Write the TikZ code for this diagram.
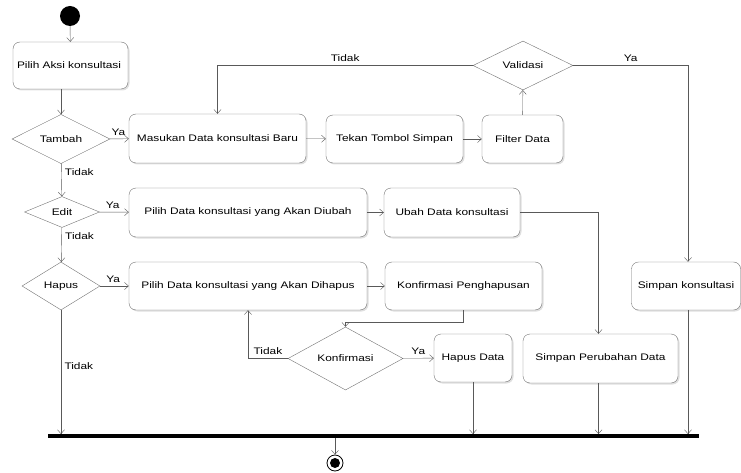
\documentclass[tikz,border=0pt]{standalone}
\usepackage{fontspec}
\setmainfont{Liberation Sans}[FakeStretch=1.25]
\usetikzlibrary{shapes.geometric,arrows.meta,shadows}
\begin{document}
\begin{tikzpicture}[x=1pt,y=-1pt,font=\fontsize{9.5}{11}\selectfont,
  >={Straight Barb[length=4pt,width=7pt]},
  line/.style={draw=black!65,->},
  act/.style={draw=black!55,rounded corners=7pt,fill=white,inner sep=2pt,
    drop shadow={opacity=.25,shadow xshift=1.5pt,shadow yshift=-1.5pt}},
  cond/.style={diamond,draw=black!55,fill=white,inner sep=0pt}]
\useasboundingbox (0,0) rectangle (741,473);
% start, aksi, keputusan
\node[circle,fill=black,minimum size=20,inner sep=0] (start) at (70,16) {};
\node[act,inner sep=4pt,minimum width=115,minimum height=47,text width=107,align=left] (aksi) at (70.5,65.5) {Pilih Aksi konsultasi};
\node[cond,minimum width=98,minimum height=48] (tambah) at (61,139) {Tambah};
\node[cond,minimum width=75,minimum height=31] (edit) at (62,212) {Edit};
\node[cond,minimum width=78,minimum height=48] (hapus) at (61,286) {Hapus};
% baris tambah
\node[act,minimum width=177,minimum height=49] (masukan) at (217.5,138.5) {Masukan Data konsultasi Baru};
\node[act,minimum width=137,minimum height=48] (tekan) at (394.5,139) {Tekan Tombol Simpan};
\node[act,minimum width=81,minimum height=48] (filter) at (522.5,139) {Filter Data};
\node[cond,minimum width=100,minimum height=49] (validasi) at (523,65.5) {Validasi};
% baris edit
\node[act,minimum width=238,minimum height=49] (diubah) at (248,212.5) {Pilih Data konsultasi yang Akan Diubah};
\node[act,minimum width=136,minimum height=49] (ubah) at (452,212.5) {Ubah Data konsultasi};
% baris hapus
\node[act,minimum width=238,minimum height=48] (dihapus) at (248,286) {Pilih Data konsultasi yang Akan Dihapus};
\node[act,minimum width=157,minimum height=48] (konfpeng) at (463.5,286) {Konfirmasi Penghapusan};
\node[act,minimum width=109,minimum height=48] (simpankons) at (686,286) {Simpan konsultasi};
\node[cond,minimum width=115,minimum height=49] (konfirmasi) at (345.5,358.5) {Konfirmasi};
\node[act,minimum width=78,minimum height=48] (hapusdata) at (473,358) {Hapus Data};
\node[act,minimum width=155,minimum height=49] (perubahan) at (600.5,358.5) {Simpan Perubahan Data};
% sinkronisasi dan akhir
\node[fill=black,minimum width=651,minimum height=3.5,inner sep=0] (bar) at (373.5,436) {};
\node[circle,draw,thick,minimum size=16,inner sep=0] (end) at (335,463) {};
\fill (end) circle (5);

\draw[line] (start) -- (aksi);
\draw[line] (aksi.south -| tambah) -- (tambah);
\draw[line] (tambah) -- node[pos=.45,above]{Ya} (masukan);
\draw[line] (tambah) -- node[pos=.25,right]{Tidak} (edit);
\draw[line] (edit) -- node[pos=.45,above]{Ya} (diubah);
\draw[line] (edit) -- node[pos=.25,right]{Tidak} (hapus);
\draw[line] (hapus) -- node[pos=.45,above]{Ya} (dihapus);
\draw[line] (hapus) -- node[pos=.45,right]{Tidak} (hapus |- bar.north);
\draw[line] (masukan) -- (tekan);
\draw[line] (tekan) -- (filter);
\draw[line] (filter) -- (validasi);
\draw[line] (validasi) -| node[pos=.25,above]{Tidak} (masukan);
\draw[line] (validasi) -| node[pos=.25,above]{Ya} ([xshift=2]simpankons.north);
\draw[line] (diubah) -- (ubah);
\draw[line] (ubah) -| ([xshift=-2]perubahan.north);
\draw[line] (dihapus) -- (konfpeng);
\draw[line] (konfpeng) -- ++(0,36) -| (konfirmasi);
\draw[line] (konfirmasi) -| node[pos=.25,above]{Tidak} (dihapus);
\draw[line] (konfirmasi) -- node[above]{Ya} (hapusdata);
\foreach \n/\dx in {hapusdata/0,perubahan/-2,simpankons/2}
  \draw[line] ([xshift=\dx]\n.south) -- ([xshift=\dx]\n.south |- bar.north);
\draw[line] (bar.south -| end) -- (end);
\end{tikzpicture}
\end{document}
